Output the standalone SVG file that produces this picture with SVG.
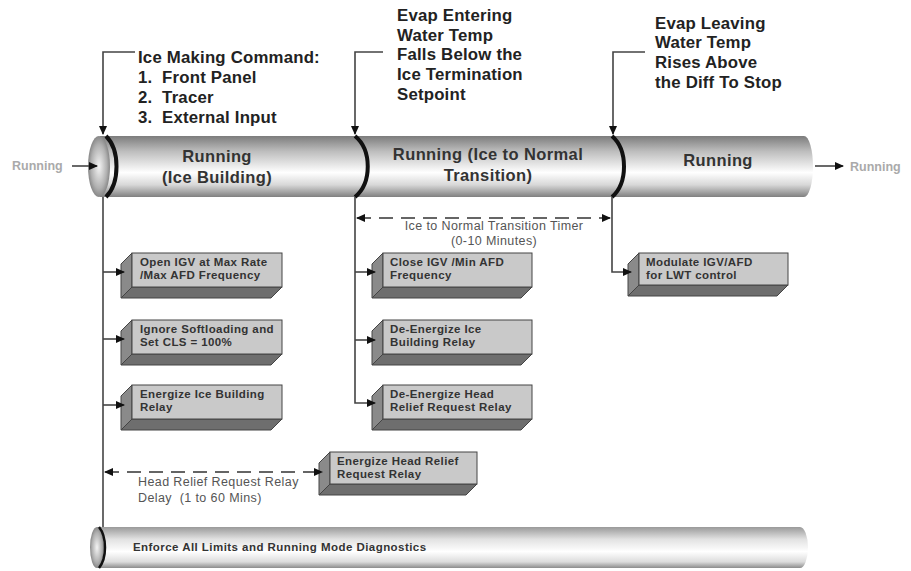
<svg xmlns="http://www.w3.org/2000/svg" width="911" height="571" viewBox="0 0 911 571">
<style>
.t{font-family:"Liberation Sans",Arial,sans-serif;font-weight:bold;fill:#222}
.h{font-size:16.8px;letter-spacing:0.2px}
.p{font-size:16.5px;letter-spacing:0.4px;fill:#333}
.b{font-size:11.5px;letter-spacing:0.4px;fill:#333}
.e{font-size:11.5px;letter-spacing:0.45px;fill:#333}
.g{font-family:"Liberation Sans",Arial,sans-serif;font-size:12.5px;font-weight:bold;fill:#aaa}
.n{font-family:"Liberation Sans",Arial,sans-serif;font-size:12.5px;letter-spacing:0.4px;fill:#555}
.ln{fill:none;stroke:#444;stroke-width:1.6}
.ds{fill:none;stroke:#333;stroke-width:1.6;stroke-dasharray:14 8}
.arc{fill:none;stroke:#111;stroke-width:4}
.ff{fill:#c9c9c9;stroke:#444;stroke-width:1}
.lf{fill:#8a8a8a;stroke:#444;stroke-width:1}
.bf{fill:#6e6e6e;stroke:#444;stroke-width:1}
</style>
<defs>
<linearGradient id="pipe" x1="0" y1="0" x2="0" y2="1">
<stop offset="0" stop-color="#7c7c7c"/>
<stop offset="0.25" stop-color="#bdbdbd"/>
<stop offset="0.6" stop-color="#ffffff"/>
<stop offset="0.8" stop-color="#d8d8d8"/>
<stop offset="1" stop-color="#808080"/>
</linearGradient>
<linearGradient id="pipe2" x1="0" y1="0" x2="0" y2="1">
<stop offset="0" stop-color="#9a9a9a"/>
<stop offset="0.3" stop-color="#e2e2e2"/>
<stop offset="0.6" stop-color="#ffffff"/>
<stop offset="0.85" stop-color="#dcdcdc"/>
<stop offset="1" stop-color="#8c8c8c"/>
</linearGradient>
<radialGradient id="cap" cx="0.5" cy="0.5" r="0.6">
<stop offset="0" stop-color="#f4f4f4"/>
<stop offset="0.6" stop-color="#b0b0b0"/>
<stop offset="1" stop-color="#6a6a6a"/>
</radialGradient>
<marker id="ah" markerWidth="9" markerHeight="8" refX="8" refY="4" orient="auto" markerUnits="userSpaceOnUse">
<path d="M0,0 L9,4 L0,8 Z" fill="#111"/>
</marker>
<marker id="as" markerWidth="9" markerHeight="8" refX="1" refY="4" orient="auto" markerUnits="userSpaceOnUse">
<path d="M9,0 L0,4 L9,8 Z" fill="#111"/>
</marker>
</defs>
<rect width="911" height="571" fill="#fff"/>

<g id="main-pipe">
<path d="M100,136 L804,136 A9,30.5 0 0 1 804,197 L100,197 Z" fill="url(#pipe)"/>
<ellipse cx="99" cy="166.5" rx="11" ry="30.5" fill="url(#cap)"/>
<path class="arc" d="M106,136 C120,150 120,183 106,197"/>
<path class="arc" d="M355,136 C372,150 372,183 355,197"/>
<path class="arc" d="M612,136 C628,150 628,183 612,197"/>
</g>

<g id="state-ice-building">
<text class="t p" x="217" y="162" text-anchor="middle">Running</text>
<text class="t p" x="217" y="183" text-anchor="middle">(Ice Building)</text>
</g>
<g id="state-transition">
<text class="t p" x="488" y="160" text-anchor="middle">Running (Ice to Normal</text>
<text class="t p" x="488" y="181" text-anchor="middle">Transition)</text>
</g>
<g id="state-running">
<text class="t p" x="718" y="166" text-anchor="middle">Running</text>
</g>
<g id="running-in">
<text class="g" x="12" y="170">Running</text>
</g>
<g id="running-out">
<text class="g" x="850" y="171">Running</text>
</g>

<g id="cmd-label">
<text class="t h" x="138" y="63">Ice Making Command:</text>
<text class="t h" x="138" y="83" xml:space="preserve">1.  Front Panel</text>
<text class="t h" x="138" y="103" xml:space="preserve">2.  Tracer</text>
<text class="t h" x="138" y="123" xml:space="preserve">3.  External Input</text>
</g>
<g id="evap-entering-label">
<text class="t h" x="397" y="21">Evap Entering</text>
<text class="t h" x="397" y="41">Water Temp</text>
<text class="t h" x="397" y="60">Falls Below the</text>
<text class="t h" x="397" y="80">Ice Termination</text>
<text class="t h" x="397" y="100">Setpoint</text>
</g>
<g id="evap-leaving-label">
<text class="t h" x="655" y="29">Evap Leaving</text>
<text class="t h" x="655" y="48">Water Temp</text>
<text class="t h" x="655" y="68">Rises Above</text>
<text class="t h" x="655" y="88">the Diff To Stop</text>
</g>

<g id="box-open-igv">
<polygon class="lf" points="132,253 132,287 121,298 121,264"/>
<polygon class="bf" points="132,287 282,287 271,298 121,298"/>
<rect class="ff" x="132" y="253" width="150" height="34"/>
<text class="t b" x="140" y="266">Open IGV at Max Rate</text>
<text class="t b" x="140" y="279">/Max AFD Frequency</text>
</g>
<g id="box-ignore-softloading">
<polygon class="lf" points="132,320 132,354 121,365 121,331"/>
<polygon class="bf" points="132,354 282,354 271,365 121,365"/>
<rect class="ff" x="132" y="320" width="150" height="34"/>
<text class="t b" x="140" y="333">Ignore Softloading and</text>
<text class="t b" x="140" y="346">Set CLS = 100%</text>
</g>
<g id="box-energize-ice">
<polygon class="lf" points="132,385 132,419 121,430 121,396"/>
<polygon class="bf" points="132,419 282,419 271,430 121,430"/>
<rect class="ff" x="132" y="385" width="150" height="34"/>
<text class="t b" x="140" y="398">Energize Ice Building</text>
<text class="t b" x="140" y="411">Relay</text>
</g>
<g id="box-close-igv">
<polygon class="lf" points="383,253 383,287 372,298 372,264"/>
<polygon class="bf" points="383,287 532,287 521,298 372,298"/>
<rect class="ff" x="383" y="253" width="149" height="34"/>
<text class="t b" x="390" y="266">Close IGV /Min AFD</text>
<text class="t b" x="390" y="279">Frequency</text>
</g>
<g id="box-deenergize-ice">
<polygon class="lf" points="383,320 383,354 372,365 372,331"/>
<polygon class="bf" points="383,354 532,354 521,365 372,365"/>
<rect class="ff" x="383" y="320" width="149" height="34"/>
<text class="t b" x="390" y="333">De-Energize Ice</text>
<text class="t b" x="390" y="346">Building Relay</text>
</g>
<g id="box-deenergize-head">
<polygon class="lf" points="383,385 383,419 372,430 372,396"/>
<polygon class="bf" points="383,419 532,419 521,430 372,430"/>
<rect class="ff" x="383" y="385" width="149" height="34"/>
<text class="t b" x="390" y="398">De-Energize Head</text>
<text class="t b" x="390" y="411">Relief Request Relay</text>
</g>
<g id="box-modulate">
<polygon class="lf" points="639,253 639,285 628,296 628,264"/>
<polygon class="bf" points="639,285 788,285 777,296 628,296"/>
<rect class="ff" x="639" y="253" width="149" height="32"/>
<text class="t b" x="646" y="266">Modulate IGV/AFD</text>
<text class="t b" x="646" y="279">for LWT control</text>
</g>
<g id="box-energize-head">
<polygon class="lf" points="330,452 330,484 319,495 319,463"/>
<polygon class="bf" points="330,484 477,484 466,495 319,495"/>
<rect class="ff" x="330" y="452" width="147" height="32"/>
<text class="t b" x="337" y="465">Energize Head Relief</text>
<text class="t b" x="337" y="478">Request Relay</text>
</g>

<g id="bottom-pipe">
<path d="M97,527 L800,527 A8,20.5 0 0 1 800,568 L97,568 Z" fill="url(#pipe2)"/>
<ellipse cx="97" cy="547.5" rx="7" ry="20.5" fill="url(#cap)"/>
<path fill="none" stroke="#111" stroke-width="2.5" d="M99,527 C107,537 107,558 99,568"/>
<text class="t e" x="133" y="551">Enforce All Limits and Running Mode Diagnostics</text>
</g>

<g id="timer-labels">
<text class="n" x="494" y="230" text-anchor="middle">Ice to Normal Transition Timer</text>
<text class="n" x="494" y="245" text-anchor="middle">(0-10 Minutes)</text>
<text class="n" x="138" y="486">Head Relief Request Relay</text>
<text class="n" x="138" y="502" xml:space="preserve">Delay  (1 to 60 Mins)</text>
</g>

<g id="connectors">
<path class="ln" d="M72,166 L97,166" marker-end="url(#ah)"/>
<path class="ln" d="M815,166 L843,166" marker-end="url(#ah)"/>
<path class="ln" d="M135,52 L103,52 L103,134" marker-end="url(#ah)"/>
<path class="ln" d="M383,52 L355,52 L355,134" marker-end="url(#ah)"/>
<path class="ln" d="M645,52 L613,52 L613,134" marker-end="url(#ah)"/>
<path class="ln" d="M103,197 L103,527"/>
<path class="ln" d="M103,272 L124,272" marker-end="url(#ah)"/>
<path class="ln" d="M103,339 L124,339" marker-end="url(#ah)"/>
<path class="ln" d="M103,405 L124,405" marker-end="url(#ah)"/>
<path class="ln" d="M355,197 L355,403 L375,403" marker-end="url(#ah)"/>
<path class="ln" d="M355,272 L375,272" marker-end="url(#ah)"/>
<path class="ln" d="M355,340 L375,340" marker-end="url(#ah)"/>
<path class="ln" d="M612,197 L612,272 L631,272" marker-end="url(#ah)"/>
<path class="ds" d="M357,218 L610,218" marker-start="url(#as)" marker-end="url(#ah)"/>
<path class="ds" d="M105,472 L322,472" marker-start="url(#as)" marker-end="url(#ah)"/>
</g>
</svg>
